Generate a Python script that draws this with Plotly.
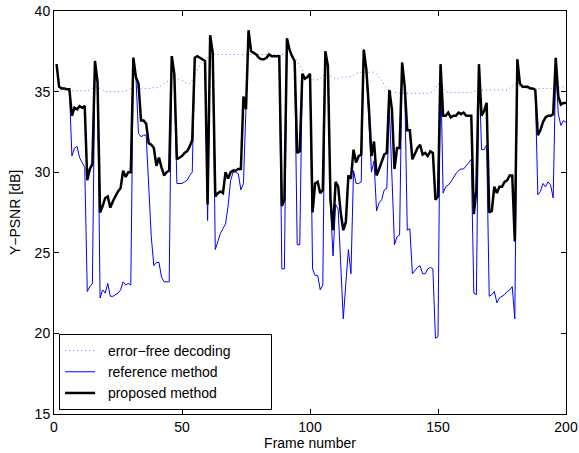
import plotly.graph_objects as go

frames = list(range(1, 201))

error_free = [
    35.1, 35.1, 35.1, 35.05, 35.05, 35.05, 35.05, 35.05, 35.05, 35.05,
    35.05, 35.05, 35.05, 35.1, 35.2, 35.3, 35.25, 35.2, 35.1, 35.0,
    35.0, 35.0, 35.0, 35.0, 35.0, 35.0, 35.0, 35.05, 35.1, 35.2,
    35.3, 35.3, 35.25, 35.2, 35.2, 35.2, 35.2, 35.2, 35.25, 35.25,
    35.3, 35.4, 35.5, 35.6, 35.7, 35.8, 35.8, 35.8, 35.75, 35.7,
    35.6, 35.5, 35.5, 35.7, 36.0, 36.4, 36.7, 36.9, 37.0, 37.1,
    37.2, 37.3, 37.3, 37.3, 37.3, 37.3, 37.3, 37.3, 37.3, 37.3,
    37.3, 37.3, 37.3, 37.3, 37.3, 37.3, 37.3, 37.3, 37.3, 37.3,
    37.3, 37.3, 37.3, 37.3, 37.3, 37.3, 37.3, 37.3, 37.3, 37.3,
    37.3, 37.3, 37.2, 37.1, 36.9, 36.6, 36.3, 36.0, 35.8, 35.75,
    35.75, 35.7, 35.75, 35.8, 36.0, 36.05, 36.05, 36.0, 35.9, 35.8,
    35.8, 35.85, 35.9, 35.9, 35.9, 35.95, 36.0, 36.1, 36.2, 36.2,
    36.2, 36.2, 36.2, 36.2, 36.2, 36.1, 35.9, 35.7, 35.4, 35.2,
    35.05, 34.95, 34.95, 34.95, 34.9, 34.9, 34.9, 34.9, 34.9, 34.9,
    34.9, 34.9, 34.9, 34.9, 34.9, 34.9, 34.95, 35.0, 35.2, 35.5,
    35.4, 35.2, 35.0, 34.95, 34.95, 34.95, 34.95, 34.95, 34.95, 34.95,
    34.95, 34.95, 34.95, 35.0, 35.05, 35.1, 35.1, 35.1, 35.1, 35.1,
    35.1, 35.1, 35.1, 35.1, 35.1, 35.1, 35.1, 35.2, 35.35, 35.5,
    35.4, 35.3, 35.25, 35.2, 35.2, 35.2, 35.2, 35.2, 35.2, 35.2,
    35.2, 35.2, 35.2, 35.2, 35.2, 35.2, 35.2, 35.25, 35.3, 35.3,
]

reference = [
    36.7, 35.3, 35.2, 35.2, 35.15, 35.15, 31.0, 31.5, 31.6, 30.9,
    30.6, 30.3, 22.6, 22.9, 23.1, 36.9, 35.6, 22.2, 22.7, 22.5,
    23.1, 22.3, 22.3, 22.4, 22.5, 22.7, 23.2, 23.0, 23.1, 23.0,
    37.1, 35.9, 32.4, 32.2, 32.3, 32.3, 29.0, 26.0, 24.2, 24.4,
    24.4, 23.5, 23.2, 23.2, 23.2, 37.2, 36.1, 29.3, 29.3, 29.3,
    29.4, 29.5, 29.8, 30.0, 37.1, 37.2, 37.1, 37.0, 36.9, 27.0,
    38.5, 37.4, 25.2, 25.7, 26.2, 26.5, 26.8, 27.9, 29.5, 30.0,
    30.0, 29.9, 28.9, 29.3, 33.9, 38.8, 37.5, 37.4, 37.3, 37.1,
    37.0, 37.0, 37.1, 37.3, 37.2, 37.2, 37.2, 37.2, 24.0, 24.0,
    38.3, 37.6, 37.2, 36.9, 25.5, 25.5, 36.1, 35.8, 35.9, 36.1,
    24.0, 23.6, 23.6, 22.7, 23.0, 37.5, 36.6, 27.9, 24.8, 28.0,
    27.7, 24.3, 20.9, 23.1, 25.2, 23.7, 30.1, 29.3, 29.3, 29.4,
    37.6, 36.4, 33.5, 30.0, 30.7, 27.6, 28.1, 28.3, 28.9, 29.0,
    34.0, 29.5, 25.5, 26.0, 26.1, 36.8, 35.3, 26.4, 26.5, 23.7,
    23.9, 24.1, 24.2, 23.7, 23.7, 24.0, 24.1, 24.0, 19.7, 19.8,
    36.7, 28.7, 29.1, 29.2, 29.4, 29.7, 29.9, 30.1, 30.2, 30.2,
    30.4, 30.6, 30.8, 22.5, 22.4, 36.7, 31.4, 31.4, 31.7, 22.3,
    22.4, 22.6, 21.9, 22.2, 22.3, 22.4, 22.6, 22.7, 22.9, 20.9,
    37.0, 35.5, 35.3, 35.3, 35.3, 35.2, 35.2, 35.1, 28.6, 28.8,
    29.3, 29.1, 29.4, 29.2, 28.4, 36.6, 33.6, 32.9, 33.2, 33.1,
]

proposed = [
    36.7, 35.3, 35.2, 35.2, 35.15, 35.15, 33.5, 34.0, 33.9, 34.1,
    34.0, 34.1, 29.5, 30.2, 30.5, 36.9, 35.6, 27.5, 27.9, 28.4,
    28.5, 27.8, 28.2, 28.5, 28.8, 29.0, 30.1, 29.7, 30.0, 30.0,
    37.1, 35.9, 35.5, 33.2, 33.2, 33.0, 31.8, 31.7, 31.5, 30.4,
    30.9, 30.3, 29.8, 30.0, 30.1, 37.2, 36.1, 30.8, 30.9, 31.0,
    31.2, 31.3, 31.6, 32.0, 37.1, 37.2, 37.1, 37.0, 36.9, 28.0,
    38.5, 37.4, 28.5, 28.7, 28.8, 28.7, 30.0, 29.6, 30.0, 30.1,
    30.1, 30.2, 30.2, 34.7, 33.9, 38.8, 37.5, 37.4, 37.3, 37.1,
    37.0, 37.0, 37.1, 37.3, 37.2, 37.2, 37.2, 37.2, 27.9, 28.3,
    38.3, 37.6, 37.2, 36.9, 31.2, 31.3, 36.1, 35.8, 35.9, 36.1,
    27.5, 29.3, 29.4, 28.7, 28.9, 37.5, 36.6, 28.3, 26.4, 29.4,
    29.1, 27.5, 26.4, 26.9, 29.8, 29.6, 31.4, 30.6, 31.0, 31.1,
    37.6, 36.4, 34.0, 31.0, 31.9, 29.8, 30.2, 30.6, 31.1, 31.2,
    35.1, 33.9, 30.2, 31.5, 31.5, 36.8, 35.3, 32.6, 32.6, 30.8,
    31.2, 31.5, 31.7, 31.1, 31.2, 31.0, 31.3, 31.2, 28.3, 28.5,
    36.7, 33.5, 33.5, 33.7, 33.4, 33.5, 33.5, 33.7, 33.6, 33.7,
    33.5, 33.5, 33.5, 27.4, 28.9, 36.7, 33.5, 33.8, 34.3, 27.5,
    27.6, 29.1, 28.7, 29.1, 29.1, 29.4, 29.5, 29.8, 29.8, 25.7,
    37.0, 35.5, 35.3, 35.3, 35.3, 35.2, 35.2, 35.1, 32.3, 32.6,
    33.1, 33.4, 33.5, 33.5, 33.6, 37.1, 34.7, 34.2, 34.3, 34.3,
]

x_ticks = [0, 50, 100, 150, 200]
y_ticks = [15, 20, 25, 30, 35, 40]

FONT = "Liberation Sans, Arial, Helvetica, sans-serif"
NB = "\u00a0"

fig = go.Figure()
fig.add_trace(go.Scatter(x=frames, y=error_free, mode="lines",
                         name=NB * 2 + "error\u2212free decoding" + NB * 9,
                         line=dict(color="rgb(110,110,255)", width=1, dash="1px,3px")))
fig.add_trace(go.Scatter(x=frames, y=reference, mode="lines",
                         name=NB * 2 + "reference method",
                         line=dict(color="#0000ff", width=1)))
fig.add_trace(go.Scatter(x=frames, y=proposed, mode="lines",
                         name=NB * 2 + "proposed method",
                         line=dict(color="#000000", width=2.5)))

axis_common = dict(showgrid=False, zeroline=False, showline=True, linecolor="black",
                   linewidth=1, mirror="ticks", ticks="inside", ticklen=5,
                   tickcolor="black", automargin=False, ticklabeloverflow="allow",
                   tickfont=dict(size=14, color="black", family=FONT))

fig.update_xaxes(range=[0, 200], tickvals=x_ticks, ticktext=[str(v) for v in x_ticks],
                 title=dict(text="Frame number", font=dict(size=14, color="black", family=FONT),
                            standoff=2),
                 **axis_common)
fig.update_yaxes(range=[15, 40], tickvals=y_ticks, ticktext=[str(v) for v in y_ticks],
                 title=dict(text="Y\u2212PSNR [dB]", font=dict(size=14, color="black", family=FONT),
                            standoff=10),
                 **axis_common)

fig.update_layout(
    width=579, height=453,
    margin=dict(l=54, r=12.5, t=11.3, b=39, autoexpand=False),
    paper_bgcolor="white", plot_bgcolor="white",
    font=dict(family=FONT, size=14, color="black"),
    showlegend=True,
    legend=dict(x=0.01, y=0.01, xanchor="left", yanchor="bottom",
                bgcolor="white", bordercolor="black", borderwidth=1,
                font=dict(size=14, family=FONT, color="black"),
                tracegroupgap=0, itemwidth=30),
)

fig.write_html("out.html", config={"displayModeBar": False},
               post_script="document.body.style.margin='0';document.body.style.overflow='hidden';")
